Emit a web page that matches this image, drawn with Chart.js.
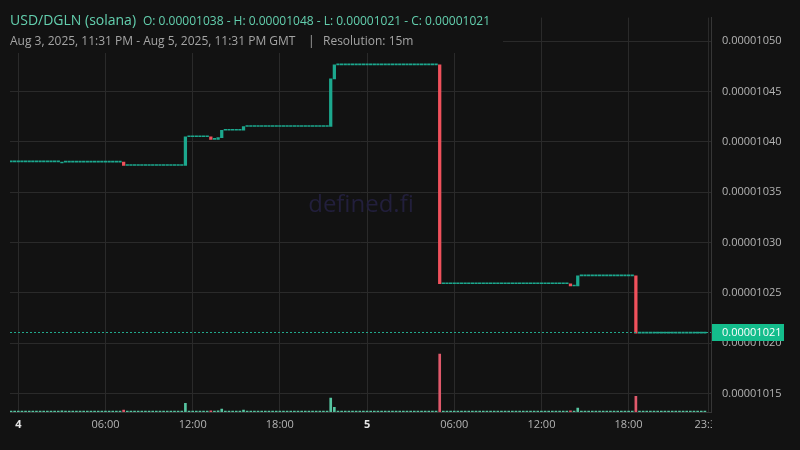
<!DOCTYPE html>
<html>
<head>
<meta charset="utf-8">
<script src="https://cdn.jsdelivr.net/npm/chart.js@4.4.1/dist/chart.umd.min.js"></script>
<style>
  html, body { margin: 0; padding: 0; background: #121212; }
  #wrap { width: 800px; height: 450px; position: relative; }
</style>
</head>
<body>
<div id="wrap"><canvas id="chart"></canvas></div>
<script>
// 15m candles from Aug 3 23:30 to Aug 5 23:15 GMT
const candleCount = 192;
const firstPrice = 0.00001038;

// only the candles where the price moved (index counted from Aug 3 23:30)
const moveIndex  = [14, 31, 48, 55, 57, 58, 64, 88, 89, 118, 154, 156, 172];
const moveOpen   = [0.0000103790, 0.0000103798, 0.0000103765, 0.0000104050, 0.0000104025, 0.0000104042, 0.0000104115,
                    0.0000104152, 0.0000104625, 0.0000104765, 0.0000102590, 0.0000102568, 0.0000102668];
const moveClose  = [0.0000103798, 0.0000103765, 0.0000104050, 0.0000104025, 0.0000104042, 0.0000104115, 0.0000104152,
                    0.0000104625, 0.0000104765, 0.0000102590, 0.0000102568, 0.0000102668, 0.0000102100];
const moveVolume = [0.3, 0.5, 2.2, 0.3, 0.3, 0.75, 0.5, 3.5, 1.2, 14.7, 0.3, 1.0, 4.0];
const flatVolume = 0.1;

const priceTicks = [0.00001015, 0.00001020, 0.00001025, 0.00001030, 0.00001035, 0.00001040, 0.00001045, 0.00001050];
// hours from Aug 4 00:00
const hourTicks  = [0, 6, 12, 18, 24, 30, 36, 42, 47.5];
const hourLabels = ['4', '06:00', '12:00', '18:00', '5', '06:00', '12:00', '18:00', '23:30'];
const lastPrice = 0.00001021;

const bg = '#121212';
const upColor = '#1ca88e';
const downColor = '#f0515c';
const upVol = '#56c4a0';
const downVol = '#e0596b';
const gridColor = '#2a2a2a';

const candles = [];
const volumes = [];
let price = firstPrice;
for (let i = 0; i < candleCount; i++) {
    const h = -0.5 + i * 0.25;
    const k = moveIndex.indexOf(i);
    let o = price, c = price, v = flatVolume;
    if (k >= 0) {
        o = moveOpen[k];
        c = moveClose[k];
        v = moveVolume[k];
    }
    candles.push({ x: h, y: [o, c], up: c >= o });
    volumes.push({ x: h, y: v, up: c >= o });
    price = c;
}

const decor = {
    id: 'decor',
    beforeDatasetsDraw(chart) {
        const ctx = chart.ctx;
        ctx.save();
        // watermark
        ctx.fillStyle = '#221f3c';
        ctx.font = '24px "Open Sans"';
        ctx.textAlign = 'center';
        ctx.textBaseline = 'middle';
        ctx.fillText('defined.fi', 361, 205);
        // header box hides the grid under the title
        ctx.fillStyle = bg;
        ctx.fillRect(0, 0, 503, 53);
        ctx.restore();
    },
    afterDraw(chart) {
        const ctx = chart.ctx;
        const area = chart.chartArea;
        const y = Math.round(chart.scales.y.getPixelForValue(lastPrice)) - 1;
        ctx.save();
        // dotted last price line
        ctx.strokeStyle = '#22a98c';
        ctx.lineWidth = 1;
        ctx.setLineDash([2, 2]);
        ctx.beginPath();
        ctx.moveTo(area.left, y + 0.5);
        ctx.lineTo(area.right, y + 0.5);
        ctx.stroke();
        ctx.setLineDash([]);
        // clip the last time label at the price scale
        ctx.fillStyle = bg;
        ctx.fillRect(area.right + 1, area.bottom + 1, 100, 50);
        // last price label
        ctx.fillStyle = '#14bd8c';
        ctx.fillRect(area.right + 1, y - 8, 72, 17);
        ctx.fillStyle = '#ffffff';
        ctx.font = '11px "Open Sans"';
        ctx.textAlign = 'left';
        ctx.textBaseline = 'middle';
        ctx.fillText(lastPrice.toFixed(8), area.right + 11, y + 1);
        // header
        ctx.textBaseline = 'alphabetic';
        ctx.fillStyle = '#63cfae';
        ctx.font = '14px "Open Sans"';
        ctx.fillText('USD/DGLN (solana)', 10, 25);
        ctx.font = '12px "Open Sans"';
        ctx.fillText('O: 0.00001038 - H: 0.00001048 - L: 0.00001021 - C: 0.00001021', 143, 25);
        ctx.fillStyle = '#a4a4a4';
        ctx.fillText('Aug 3, 2025, 11:31 PM - Aug 5, 2025, 11:31 PM GMT', 10, 45);
        ctx.fillText('|', 308, 45);
        ctx.fillText('Resolution: 15m', 323, 45);
        ctx.restore();
    }
};

Chart.defaults.font.family = '"Open Sans", "Noto Sans", sans-serif';

new Chart(document.getElementById('chart'), {
    type: 'bar',
    data: {
        datasets: [{
            label: 'candles',
            data: candles,
            yAxisID: 'y',
            grouped: false,
            barThickness: 2.6,
            minBarLength: 1,
            borderWidth: 0,
            order: 0,
            backgroundColor: ctx => (ctx.raw && ctx.raw.up) ? upColor : downColor
        }, {
            label: 'volume',
            data: volumes,
            yAxisID: 'v',
            grouped: false,
            barThickness: 2,
            minBarLength: 1,
            borderWidth: 0,
            order: 1,
            backgroundColor: ctx => (ctx.raw && ctx.raw.up) ? upVol : downVol
        }]
    },
    options: {
        responsive: true,
        maintainAspectRatio: false,
        animation: false,
        devicePixelRatio: 1,
        layout: { padding: { top: 10, left: 10, right: 0, bottom: 0 } },
        plugins: { legend: { display: false }, tooltip: { enabled: false } },
        scales: {
            x: {
                type: 'linear',
                offset: false,
                min: -0.571,
                max: 47.67,
                afterBuildTicks: s => { s.ticks = hourTicks.map(v => ({ value: v })); },
                afterFit: s => { s.height = 38; },
                grid: { color: gridColor, drawTicks: false, offset: false },
                border: { display: true, color: '#363636' },
                ticks: {
                    autoSkip: false,
                    maxRotation: 0,
                    padding: 6,
                    callback: (v, i) => hourLabels[i],
                    font: c => ({ size: 11, weight: (c.index === 0 || c.index === 4) ? 'bold' : 'normal' }),
                    color: c => (c.index === 0 || c.index === 4) ? '#e6e6e6' : '#b4b4b4'
                }
            },
            y: {
                position: 'right',
                min: 0.0000101316,
                max: 0.0000105234,
                afterBuildTicks: s => { s.ticks = priceTicks.map(v => ({ value: v })); },
                afterFit: s => { s.width = 89; },
                grid: { color: gridColor, drawTicks: false },
                border: { display: true, color: '#363636' },
                ticks: {
                    padding: 11,
                    font: { size: 11 },
                    color: '#b4b4b4',
                    callback: v => v.toFixed(8)
                }
            },
            v: {
                display: false,
                min: 0,
                max: 100
            }
        }
    },
    plugins: [decor]
});
</script>
</body>
</html>
